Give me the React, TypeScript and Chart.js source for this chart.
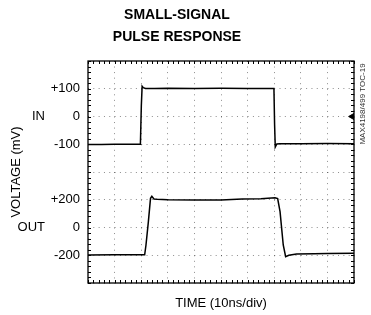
import React, { useEffect, useRef } from "react";
import { Chart, registerables } from "chart.js";

Chart.register(...registerables);

// ---- Data (time in ns, voltage in mV) ----
const TITLE_LINES = ["SMALL-SIGNAL", "PULSE RESPONSE"];
const X_TITLE = "TIME (10ns/div)";
const Y_TITLE = "VOLTAGE (mV)";
const CODE_TEXT = "MAX4198/499 TOC-19";

const T_IN = [0, 5, 10, 15, 19.7, 20.05, 20.35, 20.8, 21.6, 25, 30, 40, 50, 60, 69.9, 70.15, 70.4, 71.0, 72, 80, 90, 100];
const V_IN = [-101, -101, -100, -100, -100, 40, 109, 104, 101, 101, 102, 101, 102, 101, 101, -30, -110, -99, -98, -98, -97, -98];

const T_OUT = [0, 10, 21.3, 21.8, 22.7, 23.5, 24.0, 24.8, 26, 30, 40, 50, 58, 65, 70.3, 71.3, 72.2, 73.4, 74.3, 75.5, 78.4, 85, 90, 100];
const V_OUT = [-198, -197, -197, -126, 42, 210, 225, 205, 203, 200, 198, 198, 205, 208, 214, 208, 114, -126, -210, -200, -191, -189, -188, -186];

const TRIGGER_T = [99.3];
const TRIGGER_MV = [0];

const IN_TICKS = [-100, 0, 100];
const OUT_TICKS = [-200, 0, 200];
const IN_MIN = -600, IN_MAX = 200, IN_STEP = 100;
const OUT_MIN = -400, OUT_MAX = 1200;
const T_MIN = 0, T_MAX = 100, T_STEP = 10;

const FONT = "'Liberation Sans', Arial, Helvetica, sans-serif";
const GRID_COLOR = "rgba(0,0,0,0.45)";

const fmt = (v: number) => (v > 0 ? "+" + v : String(v));

const decor = {
  id: "scopeDecor",
  afterDraw(chart: any) {
    const { ctx, chartArea } = chart;
    const { left, top, right, bottom } = chartArea;
    const w = right - left;
    const h = bottom - top;
    ctx.save();
    ctx.strokeStyle = "#000";
    ctx.lineWidth = 1.3;
    ctx.strokeRect(left, top, w, h);
    ctx.lineWidth = 1;
    ctx.beginPath();
    for (let i = 0; i <= 50; i++) {
      const x = Math.round(left + (i * w) / 50) + 0.5;
      ctx.moveTo(x, top);
      ctx.lineTo(x, top + 3);
      ctx.moveTo(x, bottom);
      ctx.lineTo(x, bottom - 3);
    }
    for (let j = 0; j <= 40; j++) {
      const y = Math.round(top + (j * h) / 40) + 0.5;
      ctx.moveTo(left, y);
      ctx.lineTo(left + 3, y);
      ctx.moveTo(right, y);
      ctx.lineTo(right - 3, y);
    }
    ctx.stroke();

    // side labels
    ctx.fillStyle = "#000";
    ctx.font = "13px " + FONT;
    ctx.textAlign = "right";
    ctx.textBaseline = "middle";
    ctx.fillText("IN", 45, chart.scales.yIn.getPixelForValue(0));
    ctx.fillText("OUT", 45, chart.scales.yOut.getPixelForValue(0));

    // figure code
    ctx.translate(right + 9, top + 43);
    ctx.rotate(-Math.PI / 2);
    ctx.font = "8px " + FONT;
    ctx.textAlign = "center";
    ctx.fillStyle = "#333";
    ctx.fillText(CODE_TEXT, 0, 0);
    ctx.restore();
  },
};

export default function App() {
  const ref = useRef<HTMLCanvasElement | null>(null);

  useEffect(() => {
    if (!ref.current) return;
    const inData = T_IN.map((t, i) => ({ x: t, y: V_IN[i] }));
    const outData = T_OUT.map((t, i) => ({ x: t, y: V_OUT[i] }));
    const trigData = TRIGGER_T.map((t, i) => ({ x: t, y: TRIGGER_MV[i] }));

    const chart = new Chart(ref.current, {
      type: "line",
      data: {
        datasets: [
          {
            label: "IN",
            data: inData,
            yAxisID: "yIn",
            borderColor: "#000",
            borderWidth: 1.5,
            pointRadius: 0,
            tension: 0,
          },
          {
            label: "OUT",
            data: outData,
            yAxisID: "yOut",
            borderColor: "#000",
            borderWidth: 1.5,
            pointRadius: 0,
            tension: 0,
          },
          {
            label: "trigger",
            data: trigData,
            yAxisID: "yIn",
            showLine: false,
            pointStyle: "triangle",
            rotation: 270,
            pointRadius: 3.5,
            backgroundColor: "#000",
            borderColor: "#000",
          },
        ],
      },
      options: {
        animation: false,
        responsive: false,
        layout: { padding: { left: 0, right: 17, top: 0, bottom: 0 } },
        plugins: {
          legend: { display: false },
          tooltip: { enabled: false },
          title: {
            display: true,
            text: TITLE_LINES,
            color: "#000",
            font: { family: FONT, size: 14, weight: "bold", lineHeight: 22 / 14 },
            padding: { top: 4, bottom: 13 },
          },
        },
        scales: {
          x: {
            type: "linear",
            min: T_MIN,
            max: T_MAX,
            ticks: { display: false, stepSize: T_STEP },
            grid: { color: GRID_COLOR, lineWidth: 1, drawTicks: false },
            border: { display: false, dash: [1, 4.55] },
            title: {
              display: true,
              text: X_TITLE,
              color: "#000",
              font: { family: FONT, size: 13 },
              padding: { top: 0, bottom: 4.2 },
            },
            afterFit: (s: any) => {
              s.height = 32;
            },
          },
          yIn: {
            type: "linear",
            position: "left",
            min: IN_MIN,
            max: IN_MAX,
            ticks: {
              stepSize: IN_STEP,
              autoSkip: false,
              color: "#000",
              padding: 8,
              font: { family: FONT, size: 13 },
              callback: (v: any) => {
                const n = Number(v);
                if (IN_TICKS.includes(n)) return fmt(n);
                const o = OUT_MIN + ((n - IN_MIN) * (OUT_MAX - OUT_MIN)) / (IN_MAX - IN_MIN);
                if (OUT_TICKS.includes(o)) return fmt(o);
                return "";
              },
            },
            grid: { color: GRID_COLOR, lineWidth: 1, drawTicks: false },
            border: { display: false, dash: [1, 4.32] },
            title: {
              display: true,
              text: Y_TITLE,
              color: "#000",
              font: { family: FONT, size: 13 },
              padding: { top: 8.2, bottom: 0 },
            },
            afterFit: (s: any) => {
              s.width = 88;
            },
          },
          yOut: {
            type: "linear",
            display: false,
            min: OUT_MIN,
            max: OUT_MAX,
          },
        },
      },
      plugins: [decor],
    } as any);
    return () => chart.destroy();
  }, []);

  return (
    <div style={{ position: "absolute", left: 0, top: 0, width: 371, height: 315, background: "#fff" }}>
      <canvas ref={ref} width={371} height={315} style={{ display: "block" }} />
    </div>
  );
}
